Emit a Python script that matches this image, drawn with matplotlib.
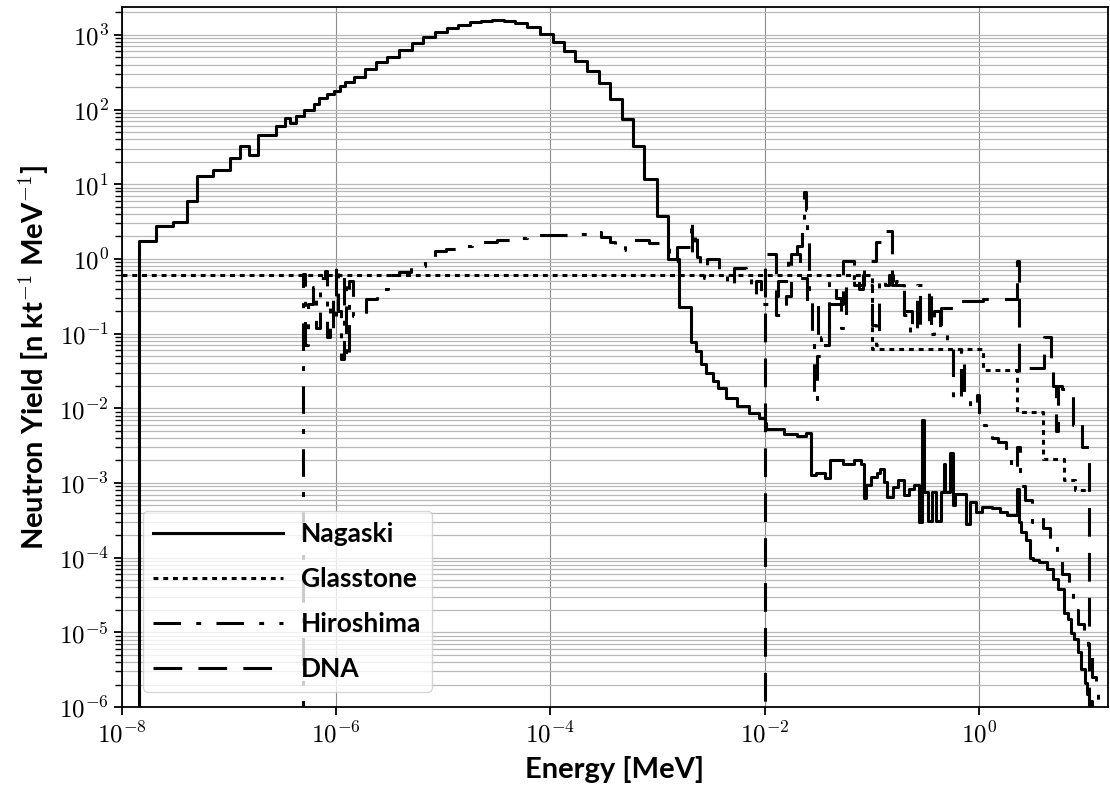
import matplotlib
matplotlib.use("Agg")
import matplotlib.pyplot as plt
from matplotlib.ticker import FuncFormatter, LogLocator, NullLocator, NullFormatter
import numpy as np

plt.rcParams['mathtext.fontset'] = 'cm'
plt.rcParams['font.family'] = ['Lato', 'DejaVu Sans']

# bin left edges [MeV] (last entry = right edge of last bin) and yields [n kt^-1 MeV^-1]
nagaski_e = [1.45e-8, 2.08e-8, 2.97e-8, 4.02e-8, 4.99e-8, 7.03e-8, 1.01e-7, 1.25e-7, 1.52e-7, 1.84e-7,
             2.75e-7, 3.29e-7, 3.72e-7, 4.17e-7, 5.02e-7, 6.14e-7, 6.89e-7, 8.18e-7, 9.44e-7, 1.09e-6,
             1.21e-6, 1.45e-6, 1.87e-6, 2.37e-6, 2.98e-6, 3.83e-6, 5.09e-6, 6.46e-6, 8.30e-6, 1.07e-5,
             1.37e-5, 1.79e-5, 2.26e-5, 2.85e-5, 3.66e-5, 4.71e-5, 6.05e-5, 7.94e-5, 1.05e-4, 1.35e-4,
             1.69e-4, 2.18e-4, 2.85e-4, 3.59e-4, 4.61e-4, 5.90e-4, 7.53e-4, 9.84e-4, 1.25e-3, 1.60e-3,
             2.04e-3, 2.29e-3, 2.52e-3, 2.83e-3, 3.30e-3, 3.70e-3, 4.38e-3, 5.51e-3, 7.08e-3, 8.91e-3,
             1.00e-2, 1.04e-2, 1.52e-2, 1.99e-2, 2.41e-2, 2.70e-2, 3.03e-2, 3.67e-2, 4.12e-2, 5.38e-2,
             6.78e-2, 7.89e-2, 8.51e-2, 8.85e-2, 9.93e-2, 0.1114, 0.1202, 0.1297, 0.140, 0.157,
             0.176, 0.198, 0.222, 0.248, 0.279, 0.296, 0.308, 0.337, 0.364, 0.394,
             0.442, 0.469, 0.488, 0.542, 0.568, 0.598, 0.753, 0.832, 0.948, 1.064,
             1.337, 1.560, 1.816, 2.249, 2.355, 2.466, 2.767, 2.985, 3.221, 3.614,
             4.375, 4.909, 5.508, 6.180, 6.776, 7.311, 7.762, 8.395, 9.057, 9.772,
             10.16, 10.72, 11.38]
nagaski_y = [1.76, 2.72, 3.10, 5.9, 12.9, 15.4, 22.5, 32.6, 24.4, 46.2,
             59.8, 77.4, 65, 82.4, 100, 118, 141, 161, 179, 208,
             234, 275, 346, 430, 512, 622, 773, 931, 1075, 1230,
             1349, 1466, 1527, 1574, 1541, 1435, 1268, 1021, 797, 604,
             452, 332, 226, 138, 74.4, 32.6, 11.9, 3.74, 1.0, 0.224,
             0.076, 0.0587, 0.0388, 0.030, 0.0232, 0.0185, 0.0138, 0.0107, 0.0087, 0.0075,
             0.0064, 0.0052, 0.0045, 0.0042, 0.0046, 0.00127, 0.00134, 0.00117, 0.0020, 0.0018,
             0.0020, 0.0018, 0.00062, 0.00093, 0.0012, 0.00134, 0.00156, 0.00103, 0.00065, 0.00088,
             0.00109, 0.00068, 0.00084, 0.00095, 0.0003, 0.007, 0.00076, 0.00031, 0.00076, 0.00031,
             0.00076, 0.0018, 0.00076, 0.0025, 0.0005, 0.00072, 0.00028, 0.00055, 0.00041, 0.00048,
             0.00046, 0.00041, 0.00037, 0.00084, 0.0003, 0.00022, 0.00017, 0.0001, 9.2e-5, 8.8e-5,
             7.0e-5, 5.2e-5, 3.8e-5, 1.84e-5, 1.5e-5, 9.9e-6, 8.1e-6, 5.4e-6, 3.2e-6, 2.1e-6,
             1.5e-6, 1.2e-6]

glasstone_e = [1e-8, 0.1, 1.1, 2.25, 4.0, 6.3, 7.85, 10.5]
glasstone_y = [0.615, 0.063, 0.033, 0.0089, 0.0021, 0.0011, 0.0008]

hiroshima_e = [4.90e-7, 5.13e-7, 5.44e-7, 6.07e-7, 6.53e-7, 7.08e-7, 7.80e-7, 8.22e-7, 8.67e-7, 9.33e-7,
               1.00e-6, 1.035e-6, 1.11e-6, 1.175e-6, 1.24e-6, 1.32e-6, 1.43e-6, 1.91e-6, 2.40e-6, 3.02e-6,
               3.89e-6, 5.01e-6, 6.76e-6, 8.32e-6, 1.05e-5, 1.38e-5, 1.86e-5, 3.16e-5, 4.57e-5, 6.03e-5,
               1.0e-4, 1.48e-4, 2.29e-4, 2.95e-4, 3.59e-4, 4.03e-4, 5.01e-4, 8.32e-4, 1.13e-3, 1.27e-3,
               1.53e-3, 2.04e-3, 2.11e-3, 2.24e-3, 2.32e-3, 2.51e-3, 2.72e-3, 2.88e-3, 3.72e-3, 4.47e-3,
               5.13e-3, 6.76e-3, 7.41e-3, 8.32e-3, 9.33e-3, 1.10e-2, 1.32e-2, 1.66e-2, 2.00e-2, 2.24e-2,
               2.34e-2, 2.43e-2, 2.51e-2, 2.60e-2, 2.75e-2, 2.88e-2, 3.05e-2, 3.39e-2, 3.98e-2, 4.68e-2,
               5.13e-2, 5.75e-2, 6.76e-2, 7.59e-2, 8.32e-2, 9.12e-2, 0.100, 0.110, 0.117, 0.132,
               0.145, 0.158, 0.170, 0.200, 0.229, 0.263, 0.302, 0.339, 0.380, 0.437,
               0.501, 0.575, 0.676, 0.724, 0.832, 0.955, 1.00, 1.07, 1.17, 1.32,
               1.51, 1.78, 2.00, 2.29, 2.40, 2.69, 3.16, 3.63, 3.98, 4.57,
               5.37, 6.03, 6.92, 7.59, 8.51, 9.55, 10.5, 11.5, 12.3, 12.9]
hiroshima_y = [0.62, 0.07, 0.25, 0.42, 0.12, 0.55, 0.68, 0.09, 0.30, 0.12,
               0.85, 0.20, 0.045, 0.60, 0.045, 0.50, 0.17, 0.29, 0.40, 0.615,
               0.66, 0.81, 1.05, 1.27, 1.36, 1.50, 1.66, 1.80, 1.88, 2.06,
               2.10, 2.16, 2.28, 1.97, 1.70, 1.33, 1.78, 1.65, 1.56, 0.95,
               1.43, 3.4, 1.2, 2.4, 1.05, 0.75, 0.55, 1.0, 0.62, 0.44,
               0.76, 0.57, 0.34, 0.50, 0.25, 0.32, 0.50, 1.17, 1.5, 3.0,
               7.9, 4.5, 2.2, 0.35, 0.11, 0.012, 0.05, 0.09, 0.5, 0.3,
               0.12, 0.55, 0.65, 0.4, 0.6, 0.45, 0.13, 0.07, 0.55, 0.45,
               0.6, 0.4, 0.5, 0.18, 0.1, 0.45, 0.35, 0.1, 0.2, 0.12,
               0.08, 0.013, 0.06, 0.015, 0.010, 0.015, 0.0075, 0.006, 0.005, 0.004,
               0.0035, 0.0025, 0.0015, 0.003, 0.0009, 0.0006, 0.0003, 0.00035, 0.00025, 0.00015,
               0.0001, 6e-5, 4e-5, 2e-5, 1.3e-5, 8e-6, 5e-6, 2.5e-6, 1.6e-6]

dna_e = [1.00e-2, 1.28e-2, 1.58e-2, 1.78e-2, 2.14e-2, 2.51e-2, 3.16e-2, 3.98e-2, 5.37e-2, 6.76e-2,
         8.51e-2, 0.110, 0.123, 0.155, 0.200, 0.240, 0.282, 0.355, 0.447, 0.646,
         1.10, 2.29, 2.37, 2.82, 4.06, 4.72, 4.90, 5.25, 5.50, 6.03,
         7.59, 8.13, 9.12, 10.7]
dna_y = [1.17, 0.18, 0.32, 1.17, 0.55, 0.25, 0.07, 0.25, 0.95, 0.45,
         0.95, 1.67, 2.4, 0.45, 0.2, 0.12, 0.35, 0.12, 0.22, 0.27,
         0.29, 0.95, 0.03, 0.035, 0.089, 0.035, 0.02, 0.005, 0.02, 0.018,
         0.006, 0.0067, 0.003]

x_ticks = [1e-8, 1e-6, 1e-4, 1e-2, 1e0]
y_ticks = [1e-6, 1e-5, 1e-4, 1e-3, 1e-2, 1e-1, 1e0, 1e1, 1e2, 1e3]

floor = 1e-12  # "zero" yield, draws the histogram edge down to the axis


def outline(edges, vals, drop_start=True, drop_end=True):
    xs = list(edges)
    ys = list(vals) + [vals[-1]]
    if drop_start:
        xs = [edges[0]] + xs
        ys = [floor] + ys
    if drop_end:
        xs = xs + [edges[-1]]
        ys = ys + [floor]
    return xs, ys


fig = plt.figure(figsize=(11.1, 7.9), dpi=100)
ax = fig.add_axes([0.110, 0.105, 0.888, 0.886])

lw = 2.2
x, y = outline(nagaski_e, nagaski_y)
ax.step(x, y, where='post', color='black', lw=lw, label='Nagaski')
x, y = outline(glasstone_e, glasstone_y, drop_start=False, drop_end=False)
ax.step(x, y, where='post', color='black', lw=lw, dashes=[1.6, 1.6], label='Glasstone')
x, y = outline(hiroshima_e, hiroshima_y)
ax.step(x, y, where='post', color='black', lw=lw, dashes=[9, 5, 1.6, 5], label='Hiroshima')
x, y = outline(dna_e, dna_y)
ax.step(x, y, where='post', color='black', lw=lw, dashes=[9.4, 5.3], label='DNA')

ax.set_xscale('log')
ax.set_yscale('log')
ax.set_xlim(1e-8, 16)
ax.set_ylim(1e-6, 2.35e3)

ax.set_xticks(x_ticks)
ax.set_yticks(y_ticks)
ax.xaxis.set_minor_locator(NullLocator())
ax.yaxis.set_minor_locator(LogLocator(base=10, subs=np.arange(2, 10), numticks=20))
ax.yaxis.set_minor_formatter(NullFormatter())
sci = FuncFormatter(lambda v, p: r'$10^{%d}$' % int(round(np.log10(v))))
ax.xaxis.set_major_formatter(sci)
ax.yaxis.set_major_formatter(sci)
ax.tick_params(which='major', labelsize=18, length=6, width=1.3)
ax.tick_params(which='minor', length=5, width=1.0)

ax.grid(True, which='both', axis='y', color='0.72', lw=0.9)
ax.grid(True, which='major', axis='x', color='0.55', lw=0.8)
for s in ax.spines.values():
    s.set_linewidth(1.3)

ax.set_xlabel('Energy [MeV]', fontsize=21, fontweight='bold', labelpad=7)
ax.set_ylabel(r'Neutron Yield [n kt$^{-1}$ MeV$^{-1}$]', fontsize=21, fontweight='bold', labelpad=6)

leg = ax.legend(loc='lower left', bbox_to_anchor=(0.021, 0.022), borderaxespad=0,
                prop={'family': ['Lato', 'DejaVu Sans'], 'weight': 'bold', 'size': 19},
                handlelength=4.9, handletextpad=0.7, labelspacing=0.8)

fig.savefig('out.png', dpi=100)
